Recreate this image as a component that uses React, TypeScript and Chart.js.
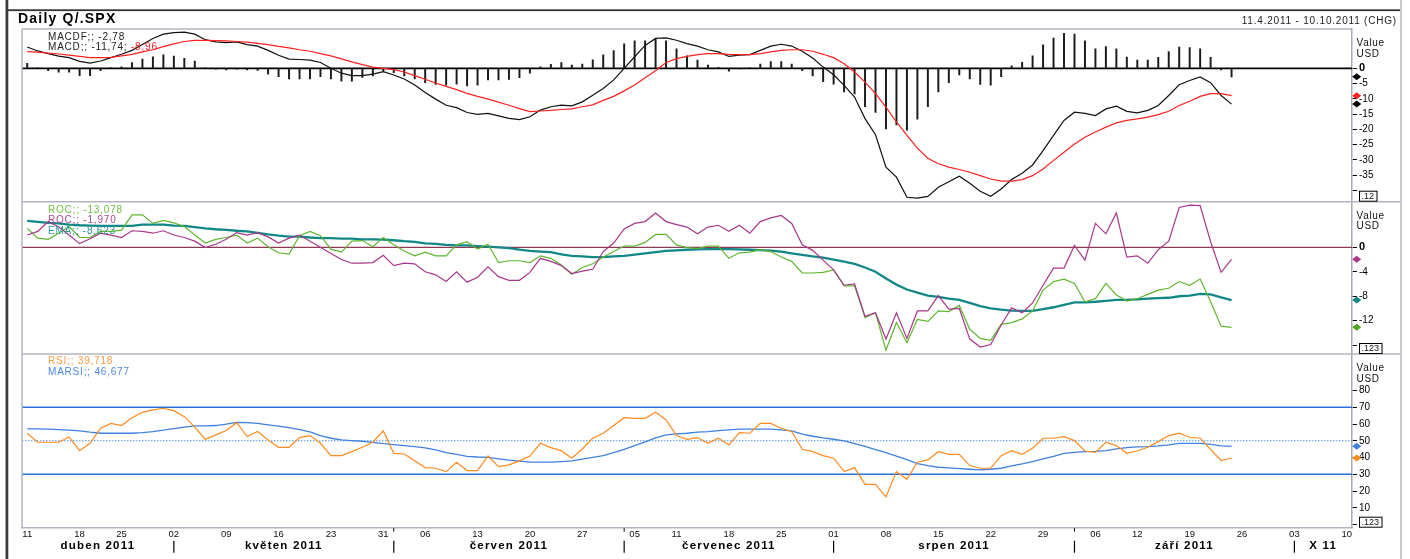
import React, { useEffect, useRef } from 'react';
import { Chart, registerables } from 'chart.js';

Chart.register(...registerables);

const FONT = '"Liberation Sans", Arial, Helvetica, sans-serif';

// ---- categories: trading days 11.4.2011 - 10.10.2011 ----
const APR_DAYS = [11, 12, 13, 14, 15, 18, 19, 20, 21, 25, 26, 27, 28, 29];
const MAY_DAYS = [2, 3, 4, 5, 6, 9, 10, 11, 12, 13, 16, 17, 18, 19, 20, 23, 24, 25, 26, 27, 31];
const JUN_DAYS = [1, 2, 3, 6, 7, 8, 9, 10, 13, 14, 15, 16, 17, 20, 21, 22, 23, 24, 27, 28, 29, 30];
const JUL_DAYS = [1, 5, 6, 7, 8, 11, 12, 13, 14, 15, 18, 19, 20, 21, 22, 25, 26, 27, 28, 29];
const AUG_DAYS = [1, 2, 3, 4, 5, 8, 9, 10, 11, 12, 15, 16, 17, 18, 19, 22, 23, 24, 25, 26, 29, 30, 31];
const SEP_DAYS = [1, 2, 6, 7, 8, 9, 12, 13, 14, 15, 16, 19, 20, 21, 22, 23, 26, 27, 28, 29, 30];
const OCT_DAYS = [3, 4, 5, 6, 7, 10];
const MONTH_DAYS = [APR_DAYS, MAY_DAYS, JUN_DAYS, JUL_DAYS, AUG_DAYS, SEP_DAYS, OCT_DAYS];
const MONTH_NUMBERS = [4, 5, 6, 7, 8, 9, 10];
const MONTH_NAMES = ['duben 2011', 'květen 2011', 'červen 2011', 'červenec 2011', 'srpen 2011', 'září 2011', 'X 11'];

const TITLE = 'Daily Q/.SPX';
const RANGE_TEXT = '11.4.2011 - 10.10.2011 (CHG)';

// ---- MACD panel ----
const MACD = [
  7.0, 5.7, 4.8, 4.0, 3.5, 2.3, 1.7, 2.4, 3.5, 4.6, 5.9, 7.8, 9.8, 11.2, 11.7, 11.9, 11.2, 9.4, 8.7, 8.4,
  8.7, 7.8, 7.3, 5.9, 4.3, 3.0, 2.9, 2.7, 1.9, 0.0, -1.6, -2.4, -2.4, -1.9, -1.1, -2.2, -3.5, -5.5, -7.9, -10.1,
  -12.1, -12.9, -14.5, -15.1, -14.8, -15.6, -16.4, -16.8, -15.9, -13.7, -12.6, -12.1, -12.3, -11.0, -8.8, -6.6, -3.8, 0.0, 3.8, 7.5,
  9.8, 10.0, 9.2, 8.1, 7.3, 6.1, 5.4, 3.9, 4.3, 4.5, 5.9, 7.3, 7.9, 7.3, 5.6, 3.4, 0.4, -2.1, -5.6, -9.4,
  -16.5, -21.8, -32.4, -35.7, -42.3, -42.6, -42.0, -39.0, -37.2, -35.4, -37.7, -40.3, -42.0, -39.6, -36.5, -34.4, -31.7, -27.0, -22.0, -17.1,
  -14.4, -14.8, -15.5, -13.3, -12.4, -14.1, -14.6, -13.8, -12.2, -8.9, -5.4, -4.0, -2.8, -4.7, -8.9, -11.74,
];
const MACD_SIGNAL = [
  5.5, 5.3, 5.0, 4.7, 4.3, 3.9, 3.5, 3.5, 3.6, 4.1, 4.6, 5.4, 6.1, 7.1, 8.0, 8.8, 9.2, 9.2, 9.1, 9.0,
  8.8, 8.6, 8.2, 7.8, 7.2, 6.7, 6.1, 5.6, 4.8, 4.1, 3.1, 2.1, 1.2, 0.4, 0.0, -0.4, -1.2, -2.4, -3.6, -4.8,
  -5.9, -7.0, -8.2, -9.2, -10.1, -11.1, -12.1, -13.2, -14.2, -14.0, -13.8, -13.5, -13.3, -12.6, -12.0, -10.5, -9.2, -7.4, -5.5, -3.1,
  -0.8, 1.9, 3.2, 3.9, 4.5, 4.8, 4.8, 4.6, 4.5, 4.5, 4.8, 5.4, 5.9, 6.1, 6.1, 5.6, 4.6, 3.5, 1.5, -1.2,
  -4.5, -8.3, -12.7, -17.6, -22.0, -26.2, -29.5, -31.3, -32.4, -33.2, -34.1, -35.2, -36.3, -37.0, -37.0, -36.5, -35.2, -33.0, -30.2, -27.5,
  -24.8, -22.6, -20.9, -19.3, -17.9, -17.1, -16.6, -16.0, -15.2, -14.1, -12.2, -10.8, -9.2, -8.3, -8.3, -8.96,
];
const MACDF = [
  1.6, 0.2, -0.8, -1.3, -1.3, -2.4, -2.4, -0.8, 0.1, 0.5, 1.9, 3.0, 3.8, 4.4, 4.0, 3.3, 2.4, 0.1, -0.3, -0.5,
  -0.3, -0.5, -0.7, -1.9, -2.7, -3.5, -3.5, -3.5, -2.7, -3.5, -4.2, -4.2, -3.0, -2.5, -0.9, -1.4, -2.5, -3.5, -4.7, -5.3,
  -5.5, -5.2, -5.8, -5.5, -3.8, -3.8, -3.6, -3.1, -1.6, 0.5, 1.3, 1.9, 1.1, 1.4, 2.8, 4.4, 5.8, 8.0, 9.0, 9.0,
  9.5, 9.0, 6.4, 4.1, 2.7, 1.1, 0.3, -0.9, -0.2, 0.1, 1.4, 2.2, 2.2, 1.4, -0.8, -2.5, -4.4, -5.2, -7.7, -8.4,
  -12.6, -14.5, -19.9, -18.6, -20.3, -16.7, -12.6, -7.7, -4.7, -2.2, -3.5, -5.3, -5.5, -2.7, 0.8, 2.0, 4.1, 7.7, 9.9, 11.5,
  11.2, 9.0, 6.4, 7.1, 6.4, 3.7, 2.7, 2.7, 3.6, 5.5, 7.0, 6.8, 6.4, 3.6, -0.5, -2.78,
];

// ---- ROC panel ----
const ROC_A = [
  3.1, 1.5, 1.3, 2.3, 3.4, 1.6, 1.6, 2.6, 2.6, 2.8, 5.3, 5.3, 3.9, 4.4, 4.0, 3.4, 2.0, 0.7, 1.3, 1.6,
  2.0, 0.7, 1.5, 0.1, -0.9, -1.1, 1.9, 2.6, 1.9, -0.3, -0.8, 1.0, 1.1, 0.1, 1.6, 0.4, -0.6, -1.4, -0.8, -1.4,
  -1.4, 0.4, 0.9, -0.3, 0.5, -2.5, -2.2, -2.2, -2.5, -1.4, -1.8, -2.9, -4.4, -3.3, -2.7, -1.6, -0.7, 0.2, 0.2, 0.8,
  2.1, 2.1, 0.4, -0.05, -0.2, 0.2, 0.2, -1.8, -0.9, -0.8, -0.4, -0.7, -1.6, -2.3, -4.2, -4.2, -4.1, -3.7, -6.3, -6.3,
  -11.5, -10.7, -16.8, -12.3, -15.6, -11.8, -12.1, -10.4, -10.5, -9.5, -13.4, -14.9, -15.2, -12.6, -12.3, -11.7, -10.4, -7.0, -5.6, -5.2,
  -5.9, -8.9, -8.4, -5.9, -7.8, -8.8, -8.4, -7.7, -7.0, -6.7, -5.6, -6.2, -5.2, -8.9, -12.9, -13.078,
];
const ROC_B = [
  2.0, 2.6, 4.2, 3.3, 2.0, 0.6, 1.4, 2.3, 2.0, 1.6, 2.7, 2.6, 2.3, 2.7, 2.0, 1.6, 1.0, -0.05, 0.5, 1.3,
  2.4, 2.0, 2.4, 1.7, 0.7, 1.5, 2.0, 1.0, 0.0, -1.0, -2.0, -2.6, -2.6, -2.5, -1.3, -3.0, -2.6, -2.7, -4.0, -4.5,
  -5.6, -4.0, -5.7, -4.9, -3.2, -4.8, -5.4, -5.4, -4.1, -1.8, -2.3, -3.0, -4.3, -3.9, -3.6, -0.7, 0.7, 3.0, 3.9, 4.2,
  5.6, 4.2, 3.7, 3.3, 2.2, 3.3, 3.6, 2.6, 3.6, 2.3, 4.2, 4.8, 5.2, 3.9, 0.4, -0.5, -2.1, -3.7, -6.2, -6.0,
  -11.3, -10.7, -15.0, -10.7, -14.9, -10.4, -10.4, -7.9, -10.1, -10.0, -15.0, -16.3, -15.9, -12.7, -9.9, -10.7, -9.1, -6.2, -3.4, -3.4,
  0.3, -2.1, 3.9, 2.2, 5.6, -1.6, -1.4, -2.6, -0.4, 1.0, 6.5, 6.9, 6.8, 0.9, -4.1, -1.97,
];
const ROC_EMA = [
  4.3, 4.15, 4.0, 3.9, 3.7, 3.6, 3.55, 3.5, 3.5, 3.5, 3.5, 3.7, 3.7, 3.7, 3.55, 3.5, 3.3, 3.1, 2.95, 2.85,
  2.7, 2.6, 2.35, 2.1, 1.9, 1.75, 1.75, 1.6, 1.5, 1.5, 1.4, 1.4, 1.3, 1.3, 1.25, 1.15, 1.0, 0.9, 0.65, 0.55,
  0.4, 0.3, 0.3, 0.2, 0.1, 0.0, -0.15, -0.4, -0.6, -0.7, -0.8, -1.15, -1.4, -1.5, -1.6, -1.6, -1.5, -1.4, -1.2, -1.0,
  -0.8, -0.6, -0.5, -0.4, -0.35, -0.3, -0.3, -0.3, -0.35, -0.4, -0.45, -0.55, -0.7, -1.0, -1.25, -1.5, -1.7, -2.0, -2.35, -2.7,
  -3.3, -4.0, -5.1, -6.1, -6.9, -7.4, -7.9, -8.1, -8.4, -8.6, -9.1, -9.6, -10.0, -10.2, -10.35, -10.4, -10.4, -10.1, -9.8, -9.4,
  -9.0, -9.0, -8.9, -8.75, -8.6, -8.6, -8.5, -8.4, -8.3, -8.25, -8.0, -7.9, -7.6, -7.7, -8.2, -8.623,
];

// ---- RSI panel ----
const RSI = [
  54.5, 49.1, 49.1, 49.1, 52.3, 44.1, 48.5, 57.5, 60.4, 59.1, 63.8, 67.0, 68.4, 69.4, 68.0, 64.4, 58.1, 50.9, 53.5, 56.1,
  60.8, 52.5, 55.5, 50.5, 46.1, 46.1, 51.9, 53.1, 48.5, 41.1, 41.1, 43.5, 46.1, 49.1, 55.9, 42.5, 42.1, 38.0, 34.0, 33.6,
  31.6, 37.2, 32.2, 32.2, 40.9, 34.6, 35.6, 38.0, 40.9, 48.5, 45.9, 44.1, 39.6, 45.1, 51.5, 54.5, 59.1, 63.8, 63.4, 63.4,
  67.0, 62.4, 53.1, 50.9, 51.9, 48.5, 51.5, 47.5, 54.9, 54.5, 60.4, 60.4, 57.5, 55.5, 44.9, 43.5, 41.1, 39.6, 31.6, 34.0,
  24.0, 24.0, 16.5, 31.6, 27.0, 37.2, 38.6, 43.5, 41.9, 41.9, 35.2, 33.6, 33.6, 41.1, 44.1, 41.9, 45.5, 51.5, 51.5, 52.5,
  50.1, 43.9, 43.1, 49.1, 47.1, 42.5, 43.9, 46.1, 49.5, 53.1, 54.5, 52.1, 51.5, 44.9, 38.2, 39.718,
];
const MARSI = [
  57.1, 57.1, 56.9, 56.7, 56.3, 55.9, 55.1, 54.5, 54.5, 54.5, 54.5, 54.9, 55.5, 56.3, 57.3, 58.1, 58.9, 58.9, 59.1, 59.9,
  61.0, 60.8, 60.4, 59.5, 58.7, 57.9, 56.7, 55.3, 53.1, 51.5, 50.5, 50.1, 49.7, 49.1, 48.3, 47.7, 47.1, 46.5, 45.7, 44.5,
  42.9, 41.9, 40.7, 40.3, 40.1, 39.2, 38.4, 37.8, 37.2, 37.2, 37.2, 37.6, 38.0, 39.0, 40.1, 41.1, 42.9, 44.9, 47.1, 49.3,
  51.7, 53.5, 54.1, 54.5, 55.1, 55.5, 56.1, 56.5, 56.9, 56.9, 56.9, 56.9, 56.5, 55.9, 53.9, 52.7, 51.7, 50.9, 49.9, 48.3,
  46.7, 44.7, 42.9, 40.9, 38.8, 36.4, 35.2, 34.2, 33.8, 33.4, 33.0, 32.6, 33.0, 33.6, 35.0, 36.2, 37.6, 39.2, 40.7, 42.5,
  43.1, 43.5, 43.7, 44.1, 45.1, 45.9, 46.3, 46.5, 46.9, 47.5, 48.5, 48.5, 48.5, 47.9, 46.9, 46.677,
];

// ---- axis ticks / reference levels ----
const MACD_TICKS = [0, -5, -10, -15, -20, -25, -30, -35, -40];
const ROC_TICKS = [0, -4, -8, -12, -16];
const RSI_TICKS = [80, 70, 60, 50, 40, 30, 20, 10, 0];
const RSI_BANDS = [70, 30];
const RSI_MID = 50;
const ZERO = 0;
const BOX_LABELS = { yMacd: '.12', yRoc: '.123', yRsi: '.123' };

// ---- colours ----
const C_MACD = '#111111';
const C_SIGNAL = '#ff1f1f';
const C_ROC_A = '#5fb62f';
const C_ROC_B = '#a8378a';
const C_EMA = '#128787';
const C_RSI = '#ff8a1e';
const C_MARSI = '#3f80e0';

const pad2 = (n: number) => (n < 10 ? '0' + n : String(n));
const CATEGORIES: string[] = [];
const MONTH_START: number[] = [];
MONTH_DAYS.forEach((days, k) => {
  MONTH_START.push(CATEGORIES.length);
  days.forEach((d) => CATEGORIES.push(`2011-${pad2(MONTH_NUMBERS[k])}-${pad2(d)}`));
});
const dow = (c: string) => new Date(c + 'T12:00:00').getDay();
const WEEK_LABELS = CATEGORIES.map((c, i) =>
  i === 0 || dow(c) <= dow(CATEGORIES[i - 1]) ? c.slice(8) : ''
);

const fmt = (v: number, dp: number) => v.toFixed(dp).replace('.', ',');
const last = (a: number[]) => a[a.length - 1];

const setSpacing = (ctx: any, px: number) => {
  if ('letterSpacing' in ctx) ctx.letterSpacing = px + 'px';
};

const decorPlugin = {
  id: 'decor',
  beforeDraw(chart: any) {
    const { ctx } = chart;
    ctx.save();
    ctx.fillStyle = '#ffffff';
    ctx.fillRect(0, 0, chart.width, chart.height);
    ctx.restore();
  },
  beforeDatasetsDraw(chart: any) {
    const { ctx, chartArea: a, scales } = chart;
    ctx.save();
    const h = (scale: any, v: number, color: string, w: number, dash: number[] = []) => {
      const y = scale.getPixelForValue(v);
      ctx.beginPath();
      ctx.setLineDash(dash);
      ctx.strokeStyle = color;
      ctx.lineWidth = w;
      ctx.moveTo(a.left, y);
      ctx.lineTo(a.right, y);
      ctx.stroke();
    };
    h(scales.yMacd, ZERO, '#000000', 1.6);
    h(scales.yRoc, ZERO, '#8e3a56', 1.3);
    RSI_BANDS.forEach((v) => h(scales.yRsi, v, '#2b6fd8', 1.6));
    h(scales.yRsi, RSI_MID, '#4a8fe6', 1, [1.5, 1.5]);
    ctx.restore();
  },
  afterDraw(chart: any) {
    const { ctx, chartArea: a, scales } = chart;
    const xs = scales.x;
    const ym = scales.yMacd;
    const yr = scales.yRoc;
    const yi = scales.yRsi;
    const frameRight = a.right + 48;
    ctx.save();
    const line = (x1: number, y1: number, x2: number, y2: number) => {
      ctx.beginPath();
      ctx.moveTo(x1, y1);
      ctx.lineTo(x2, y2);
      ctx.stroke();
    };
    // outer window frame
    ctx.fillStyle = '#3c3c3c';
    ctx.fillRect(5.5, 0, 2.8, chart.height);
    ctx.fillStyle = '#333333';
    ctx.fillRect(8, 9.3, frameRight - 8, 1.8);
    ctx.fillStyle = '#c9c9c9';
    ctx.fillRect(frameRight, 0, 2, chart.height);
    // plot frame and panel separators
    ctx.strokeStyle = '#b4b4c0';
    ctx.lineWidth = 1.5;
    line(a.left, a.top, a.right, a.top);
    line(a.left, a.top, a.left, a.bottom);
    line(a.left, ym.bottom, frameRight, ym.bottom);
    line(a.left, yr.bottom, frameRight, yr.bottom);

    // title + range
    ctx.textBaseline = 'middle';
    ctx.textAlign = 'left';
    ctx.fillStyle = '#000';
    ctx.font = `bold 14px ${FONT}`;
    setSpacing(ctx, 1.2);
    ctx.fillText(TITLE, 18, 19.5);
    ctx.textAlign = 'right';
    ctx.fillStyle = '#222';
    ctx.font = `10px ${FONT}`;
    setSpacing(ctx, 0.8);
    ctx.fillText(RANGE_TEXT, frameRight - 3, 21.5);

    // legends
    ctx.textAlign = 'left';
    ctx.font = `10px ${FONT}`;
    setSpacing(ctx, 0.8);
    const parts = (x: number, y: number, items: [string, string][]) => {
      let cx = x;
      items.forEach(([t, c]) => {
        ctx.fillStyle = c;
        ctx.fillText(t, cx, y);
        cx += ctx.measureText(t).width;
      });
    };
    const lx = a.left + 26;
    parts(lx, ym.top + 8, [['MACDF;; ' + fmt(last(MACDF), 2), '#222']]);
    parts(lx, ym.top + 18.5, [
      ['MACD;; ' + fmt(last(MACD), 2) + '; ', '#222'],
      [fmt(last(MACD_SIGNAL), 2), C_SIGNAL],
    ]);
    parts(lx, yr.top + 8.5, [['ROC;; ' + fmt(last(ROC_A), 3), '#6cbf3c']]);
    parts(lx, yr.top + 19, [['ROC;; ' + fmt(last(ROC_B), 3), '#b04a92']]);
    parts(lx, yr.top + 29.5, [['EMA;; ' + fmt(last(ROC_EMA), 3), '#2a9797']]);
    parts(lx, yi.top + 7.5, [['RSI;; ' + fmt(last(RSI), 3), '#ff9a40']]);
    parts(lx, yi.top + 18.5, [['MARSI;; ' + fmt(last(MARSI), 3), '#4a88e8']]);
    setSpacing(ctx, 0);

    // "Value USD" headers and bottom boxes
    [ym, yr, yi].forEach((s: any) => {
      ctx.fillStyle = '#111';
      ctx.font = `10px ${FONT}`;
      ctx.textAlign = 'left';
      setSpacing(ctx, 0.7);
      ctx.fillText('Value', a.right + 4.5, s.top + 14.3);
      ctx.fillText('USD', a.right + 4.5, s.top + 25);
      setSpacing(ctx, 0);
      const label = (BOX_LABELS as any)[s.id];
      ctx.font = `9px ${FONT}`;
      const w = ctx.measureText(label).width + 5;
      ctx.fillStyle = '#fff';
      ctx.fillRect(a.right + 7.5, s.bottom - 10.5, w, 10);
      ctx.strokeStyle = '#000';
      ctx.lineWidth = 1;
      ctx.strokeRect(a.right + 7.5, s.bottom - 10.5, w, 10);
      ctx.fillStyle = '#111';
      ctx.fillText(label, a.right + 9.5, s.bottom - 5.3);
    });

    // last-value diamonds on the axis
    const diamond = (s: any, v: number, color: string) => {
      const y = s.getPixelForValue(v);
      const x = a.right + 4.7;
      ctx.beginPath();
      ctx.moveTo(x - 4.5, y);
      ctx.lineTo(x, y - 3.5);
      ctx.lineTo(x + 4.5, y);
      ctx.lineTo(x, y + 3.5);
      ctx.closePath();
      ctx.fillStyle = color;
      ctx.fill();
    };
    diamond(ym, last(MACDF), '#000');
    diamond(ym, last(MACD_SIGNAL), C_SIGNAL);
    diamond(ym, last(MACD), '#000');
    diamond(yr, last(ROC_B), C_ROC_B);
    diamond(yr, last(ROC_EMA), C_EMA);
    diamond(yr, last(ROC_A), '#4aa520');
    diamond(yi, last(MARSI), C_MARSI);
    diamond(yi, last(RSI), C_RSI);

    // month separators and names
    ctx.strokeStyle = '#000';
    ctx.lineWidth = 1.2;
    ctx.fillStyle = '#000';
    ctx.font = `bold 11.5px ${FONT}`;
    ctx.textAlign = 'center';
    setSpacing(ctx, 1.2);
    MONTH_START.forEach((start, k) => {
      const sx = xs.getPixelForValue(start);
      if (k > 0) {
        line(sx, a.bottom + 13, sx, a.bottom + 25);
        if (!WEEK_LABELS[start]) {
          ctx.lineWidth = 1;
          line(sx, a.bottom + 0.5, sx, a.bottom + 4);
          ctx.lineWidth = 1.2;
        }
      }
      const left = k === 0 ? a.left : sx;
      const right = k < MONTH_START.length - 1 ? xs.getPixelForValue(MONTH_START[k + 1]) : a.right;
      ctx.fillText(MONTH_NAMES[k], (left + right) / 2, a.bottom + 18.5);
    });
    setSpacing(ctx, 0);
    ctx.restore();
  },
};

const yAxis = (
  min: number,
  max: number,
  weight: number,
  ticks: number[],
  hidden: number
) => ({
  type: 'linear',
  position: 'right',
  stack: 'panels',
  stackWeight: weight,
  min,
  max,
  afterBuildTicks: (s: any) => {
    s.ticks = ticks.map((v) => ({ value: v }));
  },
  afterFit: (s: any) => {
    s.width = 48;
  },
  grid: {
    display: true,
    drawOnChartArea: false,
    drawTicks: true,
    tickLength: 5,
    tickColor: '#000',
    tickWidth: 1,
  },
  border: { display: true, color: '#a8a8b4', width: 1.5 },
  ticks: {
    padding: 2,
    color: '#000',
    autoSkip: false,
    font: (c: any) => ({
      size: c.tick && c.tick.value === 0 ? 11 : 10,
      family: FONT,
      weight: c.tick && c.tick.value === 0 && hidden !== 0 ? 'bold' : 'normal',
    }),
    callback: (v: any) => (v === hidden ? '' : String(v)),
  },
});

export default function App() {
  const ref = useRef<HTMLCanvasElement | null>(null);
  useEffect(() => {
    if (!ref.current) return;
    const line = (data: number[], axis: string, color: string, width: number, order = 0) => ({
      type: 'line' as const,
      data,
      yAxisID: axis,
      borderColor: color,
      backgroundColor: color,
      borderWidth: width,
      pointRadius: 0,
      tension: 0,
      fill: false,
      order,
    });
    const chart = new Chart(ref.current, {
      type: 'bar',
      data: {
        labels: CATEGORIES,
        datasets: [
          {
            type: 'bar',
            data: MACDF,
            yAxisID: 'yMacd',
            backgroundColor: '#1a1a1a',
            borderWidth: 0,
            barThickness: 1.3,
            order: 5,
          } as any,
          line(MACD, 'yMacd', C_MACD, 1.2, 1),
          line(MACD_SIGNAL, 'yMacd', C_SIGNAL, 1.2, 0),
          line(ROC_EMA, 'yRoc', C_EMA, 2.3, 2),
          line(ROC_A, 'yRoc', C_ROC_A, 1.2, 1),
          line(ROC_B, 'yRoc', C_ROC_B, 1.2, 0),
          line(MARSI, 'yRsi', C_MARSI, 1.3, 1),
          line(RSI, 'yRsi', C_RSI, 1.2, 0),
        ],
      },
      options: {
        responsive: false,
        animation: false,
        devicePixelRatio: 1,
        events: [],
        layout: { padding: { left: 22, right: 10, top: 29, bottom: 17.3 } },
        plugins: {
          legend: { display: false },
          tooltip: { enabled: false },
          title: { display: false },
        },
        scales: {
          x: {
            type: 'category',
            offset: true,
            grid: { display: false, drawTicks: false },
            border: { display: true, color: '#b4b4c0', width: 1.5 },
            afterFit: (s: any) => {
              s.height = 14;
            },
            ticks: {
              autoSkip: false,
              maxRotation: 0,
              minRotation: 0,
              padding: 1,
              color: '#111',
              font: { size: 9.5, family: FONT },
              callback: (_v: any, i: number) => WEEK_LABELS[i],
            },
          },
          yMacd: yAxis(-43.75, 12.9, 172.7, MACD_TICKS, -40),
          yRoc: yAxis(-17.44, 7.45, 152.3, ROC_TICKS, -16),
          yRsi: yAxis(-1.9, 101.8, 173.7, RSI_TICKS, 0),
        } as any,
      },
      plugins: [decorPlugin],
    } as any);
    return () => chart.destroy();
  }, []);
  return (
    <div style={{ position: 'fixed', left: 0, top: 0, width: 1410, height: 559, background: '#fff' }}>
      <canvas ref={ref} width={1410} height={559} style={{ display: 'block', width: 1410, height: 559 }} />
    </div>
  );
}
